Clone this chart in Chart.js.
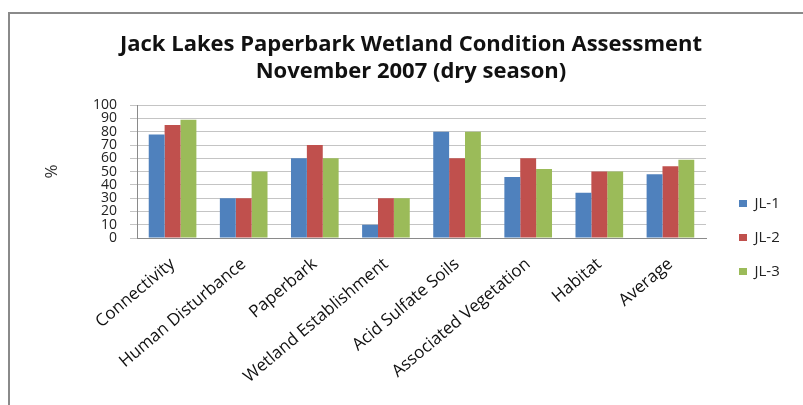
<!DOCTYPE html>
<html><head><meta charset="utf-8">
<script src="https://cdn.jsdelivr.net/npm/chart.js@4"></script>
<style>html,body{margin:0;padding:0;background:#fff}#wrap{position:absolute;left:0;top:0;width:803px;height:405px}</style>
</head><body><div id="wrap"><canvas id="c" width="803" height="405"></canvas></div>
<script>
const categories = ['Connectivity','Human Disturbance','Paperbark','Wetland Establishment','Acid Sulfate Soils','Associated Vegetation','Habitat','Average'];
const seriesNames = ['JL-1','JL-2','JL-3'];
const jl1 = [78, 30, 60, 10, 80, 46, 34, 48];
const jl2 = [85, 30, 70, 30, 60, 60, 50, 54];
const jl3 = [89, 50, 60, 30, 80, 52, 50, 59];
const yMin = 0, yMax = 100, yStep = 10;
const titleLines = ['Jack Lakes Paperbark Wetland Condition Assessment', 'November 2007 (dry season)'];
const yAxisTitle = '%';

const colors = ['#4F81BD', '#C0504D', '#9BBB59'];
const FONT = "'Open Sans', sans-serif";

const frame = {
  id: 'frame',
  beforeDraw(chart) {
    const ctx = chart.ctx;
    ctx.save();
    ctx.fillStyle = '#fff';
    ctx.fillRect(0, 0, chart.width, chart.height);
    ctx.strokeStyle = '#8a8a8a';
    ctx.lineWidth = 2;
    ctx.beginPath();
    ctx.moveTo(9, 405);
    ctx.lineTo(9, 13);
    ctx.lineTo(803, 13);
    ctx.stroke();
    ctx.restore();
  }
};
const boxPlace = {
  id: 'boxPlace',
  afterLayout(chart) {
    const lg = chart.legend;
    lg.left = 720; lg.right = 803; lg.width = 83;
    lg.top = 177; lg.bottom = 300; lg.height = 123;
    const tb = chart.titleBlock;
    tb.left = 19; tb.right = 803; tb.width = 784;
  }
};

new Chart(document.getElementById('c'), {
  type: 'bar',
  data: {
    labels: categories,
    datasets: [
      { label: seriesNames[0], data: jl1, backgroundColor: colors[0] },
      { label: seriesNames[1], data: jl2, backgroundColor: colors[1] },
      { label: seriesNames[2], data: jl3, backgroundColor: colors[2] }
    ]
  },
  plugins: [frame, boxPlace],
  options: {
    responsive: false,
    animation: false,
    devicePixelRatio: 1,
    layout: { padding: { left: 40, right: 97, top: 0, bottom: 0 } },
    datasets: { bar: { categoryPercentage: 0.67, barPercentage: 1.0, borderWidth: 0 } },
    plugins: {
      title: {
        display: true,
        text: titleLines,
        color: '#111',
        font: { family: FONT, size: 22, weight: 'bold', lineHeight: 1.22 },
        padding: { top: 31.5, bottom: 20 }
      },
      legend: {
        position: 'chartArea',
        align: 'start',
        labels: {
          boxWidth: 8, boxHeight: 7, padding: 19,
          color: '#222',
          font: { family: FONT, size: 15, lineHeight: 1 }
        }
      },
      tooltip: { enabled: false }
    },
    scales: {
      x: {
        grid: { display: false },
        border: { display: true, color: '#8a8a8a', width: 1 },
        ticks: {
          autoSkip: false, minRotation: 40, maxRotation: 40,
          color: '#111', padding: 8,
          font: { family: FONT, size: 17 }
        },
        afterFit(scale) { scale.height = 167; }
      },
      y: {
        min: yMin, max: yMax,
        grid: { color: '#c4c4c4', lineWidth: 1, tickLength: 7, drawTicks: true },
        border: { display: true, color: '#8a8a8a', width: 1 },
        ticks: {
          stepSize: yStep, autoSkip: false, padding: 13,
          color: '#222',
          font: { family: FONT, size: 14, lineHeight: 0.9 }
        },
        title: {
          display: true, text: yAxisTitle, color: '#333',
          font: { family: FONT, size: 17, lineHeight: 1.2 },
          padding: { top: 2, bottom: 0 }
        },
        afterFit(scale) { scale.width = 97; }
      }
    }
  }
});
</script></body></html>
